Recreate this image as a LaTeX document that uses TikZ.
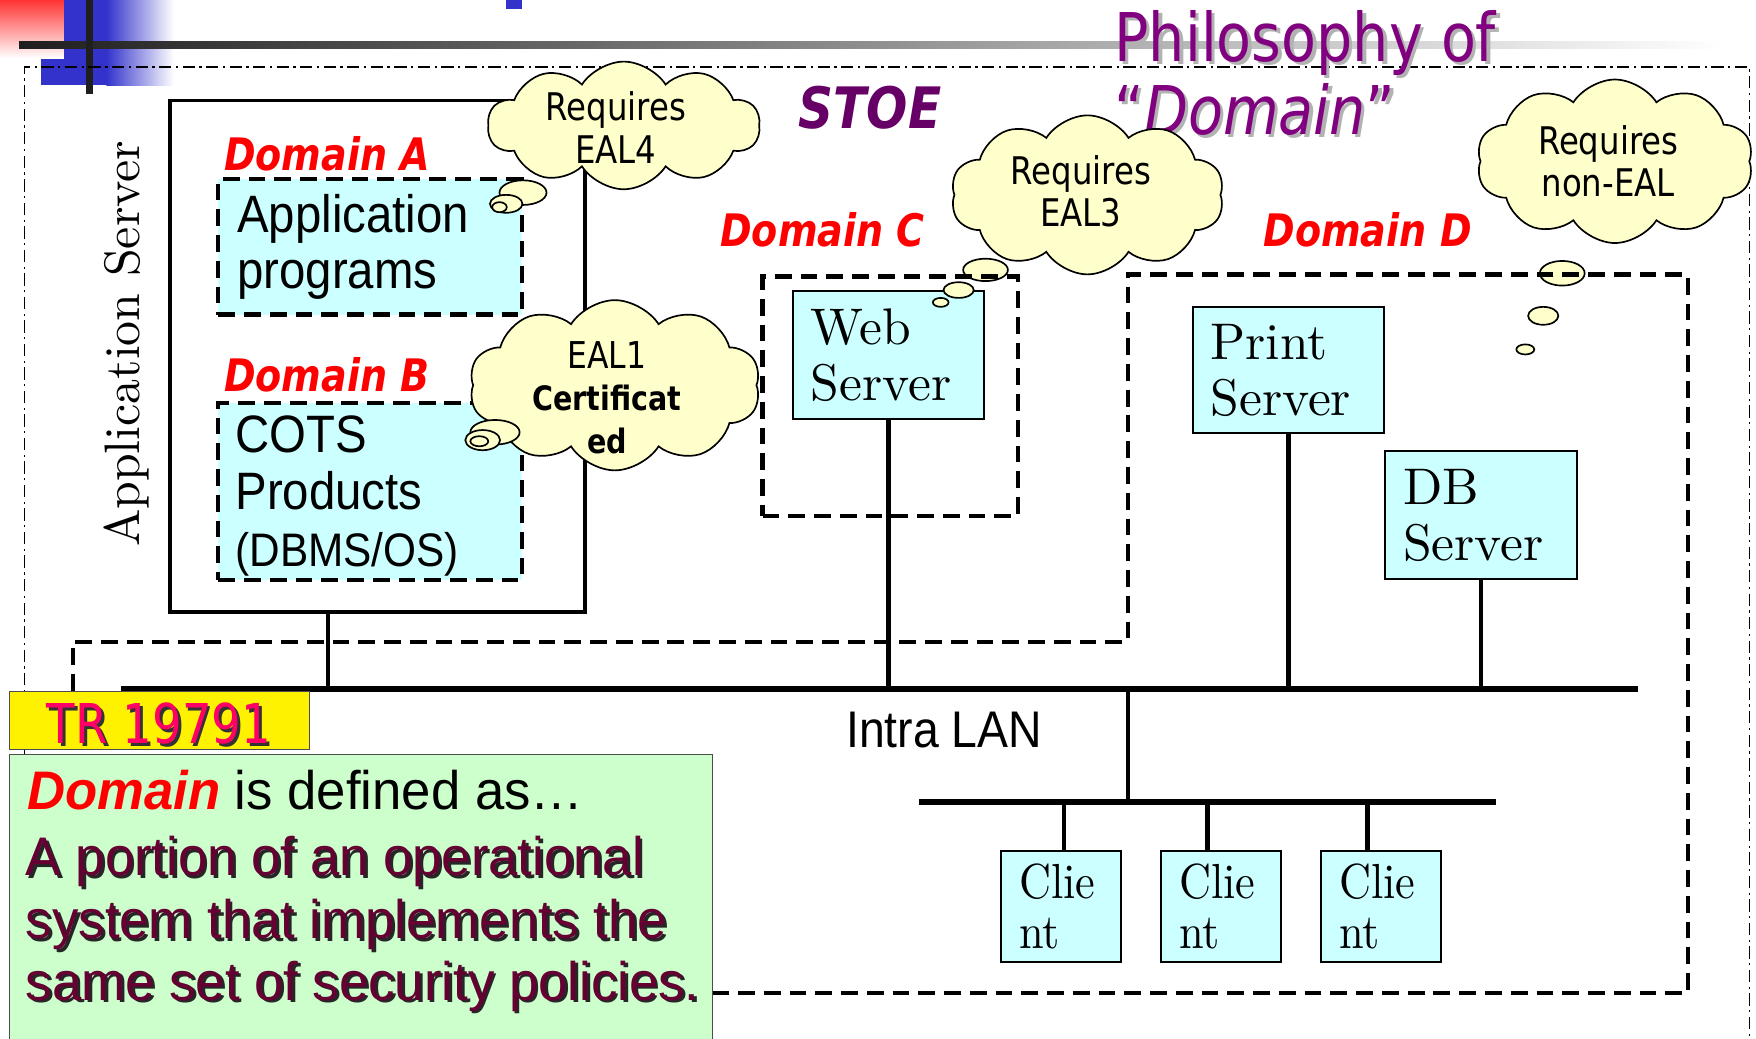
\documentclass[tikz,border=0pt]{standalone}
\usepackage{fontspec}
\usepackage{graphicx}
\usetikzlibrary{shapes.symbols}

% font families
\newfontfamily\arialf[FakeStretch=0.9]{Liberation Sans}
\newfontfamily\arialw[FakeStretch=0.97]{Liberation Sans}
\newfontfamily\tahf[FakeStretch=0.85]{DejaVu Sans}
\newfontfamily\lmten{lmroman10-regular.otf}
\newfontfamily\lmnarrow[FakeStretch=0.9]{lmroman10-regular.otf}

% colours
\definecolor{cyanbox}{HTML}{CCFFFF}
\definecolor{cloudy}{HTML}{FFFFCC}
\definecolor{mint}{HTML}{CCFFCC}
\definecolor{titlepurple}{HTML}{800080}
\definecolor{stoepurple}{HTML}{660066}
\definecolor{maroontext}{HTML}{660033}
\definecolor{trpink}{HTML}{FF0066}
\definecolor{decoblue}{HTML}{3333CC}
\definecolor{decored}{HTML}{FF3333}

\begin{document}
\begin{tikzpicture}[x=1pt,y=-1pt,
  dashline/.style={line width=3.8pt, dash pattern=on 15pt off 8pt},
  dombox/.style={draw, dashline, fill=cyanbox, anchor=north west, align=left,
    inner xsep=17pt, inner ysep=0pt, font=\arialf\fontsize{47}{50}\selectfont},
  srvbox/.style={draw, fill=cyanbox, line width=1.8pt, anchor=north west, align=left,
    inner xsep=16pt, inner ysep=0pt, text width=139pt, font=\lmten\fontsize{46}{50}\selectfont},
  clientbox/.style={draw, fill=cyanbox, line width=1.8pt, anchor=north west, align=left,
    inner xsep=16pt, inner ysep=0pt, text width=75pt, minimum height=99pt,
    font=\lmnarrow\fontsize{44}{45}\selectfont},
  domlabel/.style={text=red, anchor=base west, inner sep=0pt,
    font=\tahf\bfseries\itshape\fontsize{40}{44}\selectfont},
  cloudbg/.style={cloud, cloud puffs=10, cloud puff arc=115, cloud ignores aspect,
    draw, fill=cloudy, line width=1.5pt, inner sep=0pt},
  bubble/.style={draw, fill=cloudy, line width=1.5pt},
  cloudtxt/.style={align=center, inner sep=0pt, font=\tahf\fontsize{34}{38}\selectfont},
  titletext/.style={anchor=base west, inner sep=0pt, font=\tahf\fontsize{60}{66}\selectfont},
  deftext/.style={anchor=base west, inner sep=0pt, font=\arialw\fontsize{48.5}{57}\selectfont},
  bus/.style={line width=5pt},
  drop/.style={line width=4pt}]

\useasboundingbox (0,0) rectangle (1568,927);
\fill[white] (0,0) rectangle (1568,927);

% corner ornament of the slide
\fill[decoblue] (37,0) rectangle (96,76);
\shade[left color=decoblue, right color=white] (95,0) rectangle (155,76);
\shade[shading angle=-45, top color=decored, bottom color=white] (0,0) rectangle (57,52);
\shade[left color=black!88, right color=white] (17,37) rectangle (1540,43);
\fill[black!88] (77,0) rectangle (83,84);
\fill[decoblue] (452,0) rectangle (466,8);

% system boundary (dash-dot)
\draw[line width=1.4pt, dash pattern=on 11pt off 4pt on 2pt off 4pt]
  (22,927) -- (22,60) -- (1562,60) -- (1562,927);

% heading
\node[titletext, text=black!30] (titleAs) at (998,58) {Philosophy of};
\node[titletext, text=titlepurple] (titleA) at (995,55) {Philosophy of};
\node[titletext, text=black!30] (titleBs) at (998,123) {“\textit{Domain}”};
\node[titletext, text=titlepurple] (titleB) at (995,120) {“\textit{Domain}”};
\node[anchor=base west, inner sep=0pt, text=stoepurple,
  font=\tahf\bfseries\itshape\fontsize{51}{55}\selectfont] (stoe) at (713,115) {STOE};

% application server with domains A and B
\node[draw, line width=3.5pt, minimum width=371pt, minimum height=457pt,
  anchor=north west, inner sep=0pt] (appsrv) at (150,88) {};
\node[rotate=90, anchor=base, inner sep=0pt, font=\lmten\fontsize{44.5}{50}\selectfont]
  (appsrvlabel) at (125,307) {Application Server};

\node[domlabel] (domAlabel) at (200,152) {Domain A};
\node[dombox, text width=237pt, minimum height=121pt] (domA) at (193,158) {Application\\programs};

\node[domlabel] (domBlabel) at (200,350) {Domain B};
\node[dombox, text width=237pt, minimum height=158pt] (domB) at (193,358) {};
\node[anchor=north west, inner sep=0pt, align=left, font=\arialf\fontsize{47}{51}\selectfont]
  (domBtext) at (210,371) {COTS\\Products\\{\fontsize{42}{51}\selectfont(DBMS/OS)}};

\node[domlabel] (domClabel) at (643,220) {Domain C};
\node[domlabel] (domDlabel) at (1128,220) {Domain D};

% servers and clients
\node[srvbox, minimum height=114pt] (web) at (707,259) {Web\\Server};
\node[srvbox, minimum height=113pt] (print) at (1064,273) {Print\\Server};
\node[srvbox, minimum height=114pt] (db) at (1236,402) {DB\\Server};

\node[clientbox] (cA) at (893,759) {Clie\\nt};
\node[clientbox] (cB) at (1036,759) {Clie\\nt};
\node[clientbox] (cC) at (1179,759) {Clie\\nt};

% LAN
\coordinate (busL) at (108,615);
\coordinate (busR) at (1463,615);
\coordinate (bus2L) at (821,716);
\coordinate (bus2R) at (1336,716);
\draw[bus] (busL) -- (busR);
\draw[bus] (bus2L) -- (bus2R);
\draw[drop] (293,0 |- appsrv.south) -- (293,0 |- busL);
\draw[drop] (web.south) -- (web.south |- busL);
\draw[drop] (print.south) -- (print.south |- busL);
\draw[drop] (db.south) -- (db.south |- busL);
\draw[drop] (1007,0 |- busL) -- (1007,0 |- bus2L);
\draw[drop] (950,0 |- bus2L) -- (950,0 |- cA.north);
\draw[drop] (1078,0 |- bus2L) -- (1078,0 |- cB.north);
\draw[drop] (1221,0 |- bus2L) -- (1221,0 |- cC.north);
\node[inner sep=0pt, font=\arialf\fontsize{46}{50}\selectfont] (lan) at (843,652) {Intra LAN};

% thought clouds
\node[cloudbg, minimum width=243pt, minimum height=114pt] (cloudA) at (557,112) {};
\node[cloudtxt] (cloudAtext) at (550,114) {Requires\\EAL4};
\draw[bubble] (467,172) ellipse [x radius=21pt, y radius=11pt];
\draw[bubble] (452,182) ellipse [x radius=14.5pt, y radius=8pt];
\draw[bubble] (446,185) ellipse [x radius=6.5pt, y radius=4.5pt];

\node[cloudbg, minimum width=260pt, minimum height=152pt] (cloudB) at (549,344) {};
\node[cloudtxt] (cloudBtext) at (542,355)
  {\fontsize{33}{35}\selectfont EAL1\\{\bfseries\fontsize{30}{34}\selectfont Certificat}\\{\bfseries\fontsize{30}{34}\selectfont ed}};
\draw[bubble] (442,386) ellipse [x radius=22pt, y radius=11pt];
\draw[bubble] (431,393) ellipse [x radius=15.5pt, y radius=9pt];
\draw[bubble] (428,394) ellipse [x radius=8pt, y radius=4.5pt];

\node[cloudbg, minimum width=244pt, minimum height=142pt] (cloudC) at (971,174) {};
\node[cloudtxt] (cloudCtext) at (965,171) {Requires\\EAL3};
\draw[bubble] (880,241) ellipse [x radius=20pt, y radius=10pt];
\draw[bubble] (856,259) ellipse [x radius=13.5pt, y radius=7pt];
\draw[bubble] (840,270) ellipse [x radius=7pt, y radius=4pt];

\node[cloudbg, minimum width=247pt, minimum height=146pt] (cloudD) at (1442,144) {};
\node[cloudtxt] (cloudDtext) at (1436,144) {Requires\\non-EAL};
\draw[bubble] (1395,244) ellipse [x radius=20pt, y radius=11pt];
\draw[bubble] (1378,282) ellipse [x radius=13.5pt, y radius=8pt];
\draw[bubble] (1362,312) ellipse [x radius=8pt, y radius=4.5pt];

% domain C and domain D boundaries
\node[draw, dashline, anchor=north west, minimum width=228pt, minimum height=214pt,
  inner sep=0pt] (domC) at (679,245) {};
\draw[dashline] (636,887) -- (1507,887) -- (1507,245) -- (1007,245) -- (1007,573)
  -- (65,573) -- (65,617);

% definition panel
\node[draw=black!70, line width=1pt, fill=yellow, anchor=north west, minimum width=268pt,
  minimum height=52pt, inner sep=0pt] (trbox) at (8,617) {};
\node[anchor=base, inner sep=0pt, text=black!80, font=\tahf\fontsize{49}{52}\selectfont]
  (trshadow) at (144.5,666.5) {TR 19791};
\node[anchor=base, inner sep=0pt, text=trpink, font=\tahf\fontsize{49}{52}\selectfont]
  (trtext) at (142,664) {TR 19791};

\node[draw=black!70, line width=1pt, fill=mint, anchor=north west, minimum width=628pt,
  minimum height=270pt, inner sep=0pt] (defbox) at (8,673) {};
\node[deftext] (defhead) at (24,723) {\textcolor{red}{\bfseries\itshape Domain} is defined as…};
\node[deftext, text=black!85] (defAs) at (25.5,784.5) {A portion of an operational};
\node[deftext, text=maroontext] (defA) at (23,782) {A portion of an operational};
\node[deftext, text=black!85] (defBs) at (25.5,840.5) {system that implements the};
\node[deftext, text=maroontext] (defB) at (23,838) {system that implements the};
\node[deftext, text=black!85] (defCs) at (25.5,895.5) {same set of security policies.};
\node[deftext, text=maroontext] (defC) at (23,893) {same set of security policies.};

\end{tikzpicture}
\end{document}
